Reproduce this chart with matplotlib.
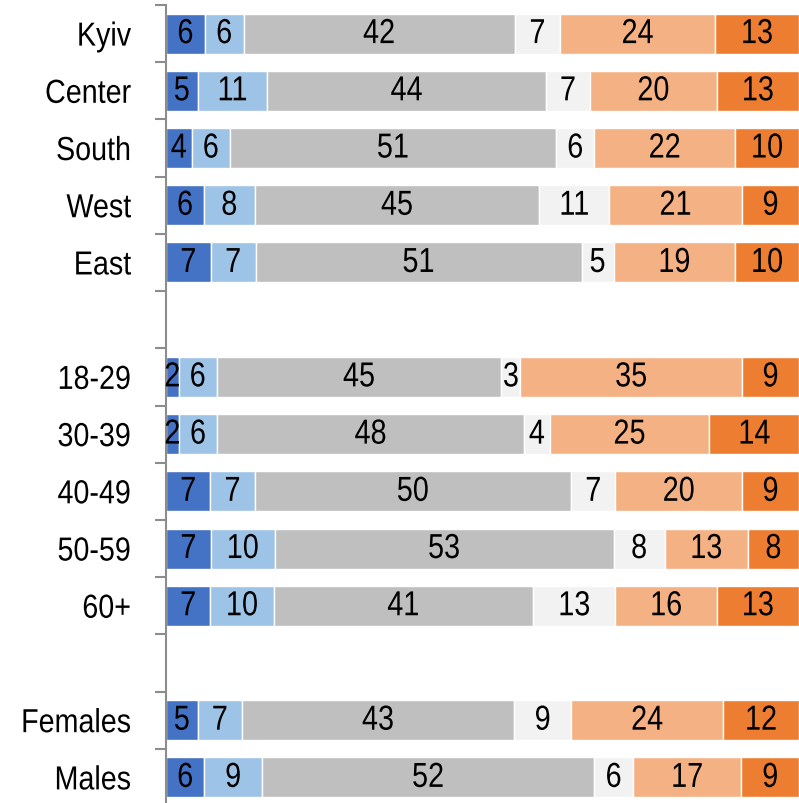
import matplotlib
matplotlib.use("Agg")
import matplotlib.pyplot as plt
import numpy as np
from matplotlib.patheffects import AbstractPathEffect
from matplotlib.transforms import Affine2D

# Row labels (blank rows separate the groups)
categories = ["Kyiv", "Center", "South", "West", "East", "",
              "18-29", "30-39", "40-49", "50-59", "60+", "",
              "Females", "Males"]

# Six answer segments per row, in percent
s1 = [6, 5, 4, 6, 7, None, 2, 2, 7, 7, 7, None, 5, 6]
s2 = [6, 11, 6, 8, 7, None, 6, 6, 7, 10, 10, None, 7, 9]
s3 = [42, 44, 51, 45, 51, None, 45, 48, 50, 53, 41, None, 43, 52]
s4 = [7, 7, 6, 11, 5, None, 3, 4, 7, 8, 13, None, 9, 6]
s5 = [24, 20, 22, 21, 19, None, 35, 25, 20, 13, 16, None, 24, 17]
s6 = [13, 13, 10, 9, 10, None, 9, 14, 9, 8, 13, None, 12, 9]

colors = ["#4472C4", "#9DC3E6", "#BFBFBF", "#F2F2F2", "#F4B183", "#ED7D31"]

plt.rcParams["font.family"] = ["Liberation Sans", "DejaVu Sans"]


class Condensed(AbstractPathEffect):
    """Squeeze glyph outlines horizontally to get a narrow typeface."""

    def __init__(self, sx=0.83, anchor="center"):
        super().__init__()
        self.sx = sx
        self.anchor = anchor

    def draw_path(self, renderer, gc, tpath, affine, rgbFace=None):
        ext = tpath.get_extents()
        cx = ext.x1 if self.anchor == "right" else (ext.x0 + ext.x1) / 2
        t = Affine2D().translate(-cx, 0).scale(self.sx, 1).translate(cx, 0) + affine
        renderer.draw_path(gc, tpath, t, rgbFace)


fig = plt.figure(figsize=(7.99, 8.04), dpi=100)
ax = fig.add_axes([166 / 799, -3 / 804, 633 / 799, 801 / 804])

series = [s1, s2, s3, s4, s5, s6]
n = len(categories)
for i in range(n):
    vals = [s[i] for s in series]
    if vals[0] is None:
        continue
    total = sum(vals)
    left = 0.0
    for v, c in zip(vals, colors):
        w = v / total * 100
        ax.barh(i, w, left=left, height=0.7, color=c, edgecolor="white", linewidth=1)
        ax.text(left + w / 2, i, str(v), ha="center", va="center",
                fontsize=25, color="black",
                path_effects=[Condensed(0.83, "center")])
        left += w

ax.set_xlim(0, 100)
ax.set_ylim(n - 0.5, -0.5)

ax.set_yticks(range(n))
ax.set_yticklabels(categories, fontsize=24)
for lbl in ax.get_yticklabels():
    lbl.set_path_effects([Condensed(0.86, "right")])
ax.tick_params(axis="y", which="major", length=0, pad=25)
ax.set_yticks(np.arange(-0.5, n, 1), minor=True)
ax.tick_params(axis="y", which="minor", length=8, width=1.5, color="#8C8C8C")
ax.set_xticks([])

for side in ["top", "right", "bottom"]:
    ax.spines[side].set_visible(False)
ax.spines["left"].set_color("#8C8C8C")
ax.spines["left"].set_linewidth(1.5)

fig.savefig("out.png", dpi=100)
